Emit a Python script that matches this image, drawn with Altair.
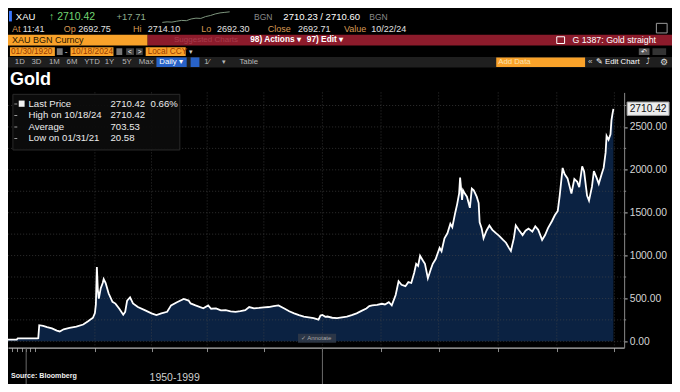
import altair as alt
import pandas as pd

# ---------------- data ----------------
idx = [0, 9, 10, 30, 31, 32, 36, 40, 45, 50, 53, 57, 63, 70, 77, 82, 87, 89, 90, 91,
       92, 93, 95, 97, 98, 100, 103, 107, 110, 114, 118, 120, 122, 125, 128, 133, 140, 147, 152, 157,
       163, 167, 173, 180, 185, 187, 192, 200, 205, 208, 213, 218, 223, 228, 233, 238, 243, 247, 252, 257,
       262, 267, 272, 277, 283, 288, 293, 298, 303, 308, 313, 318, 320, 322, 325, 327, 332, 337, 342, 347,
       352, 357, 362, 367, 370, 373, 378, 383, 386, 390, 393, 397, 400, 403, 407, 410, 413, 416, 418, 420,
       422, 425, 427, 430, 433, 435, 438, 442, 444, 447, 450, 453, 455, 458, 460, 462, 463, 465, 466, 468,
       470, 473, 475, 477, 480, 482, 483, 485, 487, 490, 493, 496, 500, 503, 507, 510, 513, 515, 518, 520,
       523, 527, 530, 533, 537, 540, 543, 547, 550, 553, 557, 560, 563, 565, 568, 570, 573, 577, 580, 583,
       585, 588, 590, 593, 595, 598, 600, 603, 605, 608, 610, 612, 613, 615, 617, 618, 619, 620]
price = [20, 20, 35, 35, 36, 188, 180, 165, 150, 125, 115, 140, 158, 172, 196, 233, 275, 330, 430, 866,
         600, 497, 620, 680, 725, 680, 560, 460, 440, 380, 310, 344, 475, 512, 442, 400, 363, 326, 307, 326,
         344, 419, 456, 494, 475, 442, 419, 385, 419, 380, 385, 360, 363, 350, 344, 352, 363, 400, 385, 389,
         395, 400, 410, 419, 382, 350, 326, 305, 289, 280, 271, 252, 300, 307, 285, 289, 275, 271, 280, 289,
         305, 326, 355, 382, 410, 419, 425, 438, 430, 456, 420, 540, 700, 660, 643, 690, 680, 800, 904, 880,
         998, 940, 904, 736, 840, 904, 960, 1090, 1050, 1202, 1260, 1370, 1330, 1500, 1600, 1724, 1910, 1650, 1761, 1720,
         1687, 1557, 1780, 1760, 1687, 1612, 1389, 1320, 1202, 1290, 1351, 1300, 1258, 1230, 1183, 1150, 1090, 1053, 1200, 1351,
         1300, 1239, 1290, 1314, 1280, 1340, 1300, 1183, 1240, 1320, 1400, 1470, 1520, 1700, 2022, 1950, 1900, 1724, 1892, 1860,
         1798, 2041, 1980, 1700, 1640, 1800, 1985, 1900, 1836, 1950, 2022, 2200, 2395, 2350, 2414, 2581, 2650, 2710.42]

y_labels = [0, 500, 1000, 1500, 2000, 2500]
y_grid = [0, 250, 500, 750, 1000, 1250, 1500, 1750, 2000, 2250, 2500, 2750]
y_minor = [250, 750, 1250, 1750, 2250, 2750]
x_ticks = [4, 9, 14, 18.6, 23, 28, 89, 147, 204, 262, 322, 382, 441, 502, 562, 621]
x_grid = [89, 147, 204, 262, 322, 382, 441, 502, 562, 621]
x_long = [18.6, 322]
spark_i = list(range(15))
spark_v = [0, 0.4, 0.2, 0.9, 1.5, 1.3, 2.6, 3.2, 3.0, 4.4, 5.2, 6.4, 7.2, 7.6, 8.0]

legend_names = ["Last Price", "High on 10/18/24", "Average", "Low on 01/31/21"]
legend_vals = ["2710.42", "2710.42", "703.53", "20.58"]

# ---------------- geometry ----------------
W0, H0 = 680, 392
TW, TH = 664, 376
SX, SY = TW / W0, TH / H0
TOP = 88 * SY
BOT = 354 * SY
RIGHT = 631 * SX
W = RIGHT
H = BOT - TOP
PX_PER = (347.5 - 124.0) / 2500.0
VTOP = (347.5 - 88) / PX_PER
VBOT = (347.5 - 354) / PX_PER


def X(px):
    return px * SX


def Y(py):
    return py * SY - TOP


FONT = "Liberation Sans, Arial, sans-serif"
one = pd.DataFrame({"k": [0]})


def txt(s, px, py, color="#e6e6e6", size=9.5, weight="normal", align="left", font=FONT):
    return alt.Chart(one).mark_text(
        text=s, align=align, baseline="middle", color=color, fontSize=size,
        fontWeight=weight, font=font
    ).encode(x=alt.value(X(px)), y=alt.value(Y(py)))


def box(x1, y1, x2, y2, fill, opacity=1.0, stroke="#000000", sw=0):
    return alt.Chart(one).mark_rect(
        fill=fill, opacity=opacity, stroke=stroke, strokeWidth=sw
    ).encode(x=alt.value(X(x1)), x2=alt.value(X(x2)), y=alt.value(Y(y1)), y2=alt.value(Y(y2)))


xs = alt.Scale(domain=[0, 631], nice=False, zero=False)
ys = alt.Scale(domain=[VBOT, VTOP], nice=False, zero=False)

AXX = alt.Axis(values=x_ticks, labels=False, tickSize=4, tickColor="#8a8a8a",
               domainColor="#b5b5b5", domainWidth=1.2, grid=False, title=None)
AXY = alt.Axis(orient="right", values=y_labels, format=".2f", tickSize=3, tickColor="#bbbbbb",
               domainColor="#8a8a8a", labelColor="#d6d6d6", labelFontSize=10.3, labelFont=FONT,
               labelPadding=2, grid=False, title=None)

df = pd.DataFrame({"i": idx, "p": price})
base = alt.Chart(df)

area = base.mark_area(color="#0b2242").encode(
    x=alt.X("i:Q", scale=xs, axis=AXX),
    y=alt.Y("p:Q", scale=ys, axis=AXY),
    y2=alt.value(H),
)

ygrid = alt.Chart(pd.DataFrame({"g": y_grid})).mark_rule(
    color="#4a4a4a", strokeDash=[1, 2], strokeWidth=0.8, opacity=0.8
).encode(y=alt.Y("g:Q", scale=ys, axis=AXY))

xgrid = alt.Chart(pd.DataFrame({"g": x_grid})).mark_rule(
    color="#4a4a4a", strokeDash=[1, 2], strokeWidth=0.8, opacity=0.8
).encode(x=alt.X("g:Q", scale=xs, axis=AXX))

line = base.mark_line(color="#ffffff", strokeWidth=1.8).encode(
    x=alt.X("i:Q", scale=xs, axis=AXX),
    y=alt.Y("p:Q", scale=ys, axis=AXY),
)

yminor = alt.Chart(pd.DataFrame({"g": y_minor})).mark_rule(
    color="#888888", strokeWidth=1
).encode(y=alt.Y("g:Q", scale=ys, axis=AXY), x=alt.value(W), x2=alt.value(W + 2))

xlong = alt.Chart(pd.DataFrame({"g": x_long})).mark_rule(
    color="#6a6a6a", strokeWidth=1
).encode(x=alt.X("g:Q", scale=xs, axis=AXX), y=alt.value(H), y2=alt.value(TH - TOP))

main = alt.layer(area, ygrid, xgrid, line, yminor, xlong)

spark = alt.Chart(pd.DataFrame({"s": spark_i, "v": spark_v})).mark_line(
    color="#7d957d", strokeWidth=1
).encode(
    x=alt.X("s:Q", axis=None, scale=alt.Scale(domain=[0, 14], range=[X(158), X(227)])),
    y=alt.Y("v:Q", axis=None, scale=alt.Scale(domain=[0, 8], range=[Y(15), Y(4)])),
)

deco = []
# row 1
deco += [box(1, 3, 4, 14, "#3a78ff"),
         txt("XAU", 8, 9, "#ffffff", 9.5),
         txt("\u2191 2710.42", 42, 9, "#72d672", 10.5),
         txt("+17.71", 111, 9, "#8fae8f", 9.5),
         txt("BGN", 252, 9, "#8a8a8a", 8.5),
         txt("2710.23 / 2710.60", 282, 9, "#ffffff", 9.5),
         txt("BGN", 370, 9, "#8a8a8a", 8.5)]
# row 2
row2 = [("At", 4, "11:41", 15), ("Op", 57, "2692.75", 72), ("Hi", 128, "2714.10", 143),
        ("Lo", 198, "2692.30", 214), ("Close", 266, "2692.71", 297), ("Value", 344, "10/22/24", 372)]
for lab, lx, val, vx in row2:
    deco += [txt(lab, lx, 22, "#d99a55", 9), txt(val, vx, 22, "#e2e2e2", 9)]
deco += [box(664, 16, 675, 26, "#000000", 1, "#9a9a9a", 1)]
# row 3
deco += [box(0, 28, 143, 39, "#f9a22a"),
         box(143, 28, 680, 39, "#8c1b2b"),
         txt("XAU BGN Curncy", 4, 33.5, "#2a1600", 9),
         txt("Suggested Charts", 170, 33.5, "#a83c4c", 8),
         txt("98) Actions \u25be", 248, 33.5, "#ffffff", 8.3, "bold"),
         txt("97) Edit \u25be", 306, 33.5, "#ffffff", 8.3, "bold"),
         box(562, 30, 570, 37, "#8c1b2b", 1, "#ffffff", 1),
         txt("G 1387: Gold straight", 578, 33.5, "#ffffff", 8.8)]
# row 4
deco += [box(2, 41, 48, 50, "#f9a22a"), txt("01/30/1920", 3, 45.5, "#9a3a00", 8.3),
         box(50, 42, 56, 49, "#777777"), txt("-", 58, 45.5, "#cccccc", 8.5),
         box(64, 41, 108, 50, "#f9a22a"), txt("10/18/2024", 65, 45.5, "#9a3a00", 8.3),
         box(111, 42, 117, 49, "#777777"), box(121, 42, 129, 49, "#444444"),
         txt("<", 123, 45.5, "#ffffff", 6.5), box(131, 42, 138, 49, "#444444"),
         txt(">", 133, 45.5, "#ffffff", 6.5),
         box(141, 41, 182, 50, "#f9a22a"), txt("Local CCY", 143, 45.5, "#9a3a00", 8.3),
         txt("\u25be", 185, 45.5, "#cccccc", 7),
         box(646, 42, 657, 49, "#555555"), box(660, 42, 674, 49, "#333333"),
         txt("\u21b6", 648, 45.5, "#ffffff", 6.5)]
# row 5
deco += [box(0, 51, 680, 62, "#1f1f1f")]
for lab, lx in [("1D", 7), ("3D", 24), ("1M", 42), ("6M", 60), ("YTD", 78), ("1Y", 99), ("5Y", 117), ("Max", 134)]:
    deco.append(txt(lab, lx, 56.5, "#b8b8b8", 7.8))
deco += [box(152, 51.5, 183, 61.5, "#2862c7"), txt("Daily \u25be", 155, 56.5, "#ffffff", 7.8),
         box(187, 51.5, 196, 61.5, "#2862c7"),
         txt("1\u2044", 201, 56.5, "#b8b8b8", 7.8), txt("\u25be", 219, 56.5, "#b8b8b8", 7),
         txt("Table", 237, 56.5, "#b8b8b8", 7.8),
         box(500, 51.5, 591, 61.5, "#f9a22a"), txt("Add Data", 502, 56.5, "#fbe2b0", 7.8),
         txt("\u00ab", 594, 56.5, "#cccccc", 8), txt("\u270e Edit Chart", 602, 56.5, "#ffffff", 7.8),
         txt("\u2699", 668, 56.5, "#dddddd", 8.5), txt("\u2934", 653, 56.5, "#dddddd", 7.5)]
# title
deco += [txt("Gold", 2, 75, "#ffffff", 18, "bold")]
# legend
deco += [box(5, 90, 176, 148, "#0c0c0c", 0.92, "#2e2e2e", 1),
         box(11, 96.5, 17, 103, "#f2f2f2")]
for nm, vv, ry in zip(legend_names, legend_vals, [100, 112, 124, 136]):
    deco.append(txt(nm, 21, ry, "#ececec", 9.6))
    deco.append(txt(vv, 105, ry, "#ececec", 9.6))
    deco.append(box(6.5, ry - 0.5, 9.5, ry + 0.5, "#9a9a9a"))
deco.append(txt("0.66%", 146, 100, "#ececec", 9.6))
# last price tag
deco += [box(634, 98, 677, 112, "#ececec", 1, "#9a9a9a", 1),
         txt("2710.42", 655.5, 105, "#111111", 10.2, align="center")]
# annotate button
deco += [box(297, 339.5, 336, 349, "#2f3848", 0.9),
         txt("\u2713 Annotate", 300, 344.3, "#a8a8a8", 6)]
# bottom texts
deco += [txt("Source: Bloomberg", 3, 384, "#f0f0f0", 7.1, "bold"),
         txt("1950-1999", 145, 386, "#cfcfcf", 10.5)]

chart = alt.layer(main, spark, *deco).resolve_scale(
    x="independent", y="independent"
).properties(
    width=W, height=H,
    padding={"left": 0, "top": TOP, "right": TW - RIGHT, "bottom": TH - BOT},
    autosize=alt.AutoSizeParams(type="none"),
    background="#000000",
).configure_view(stroke=None)

chart.save("out.html", embed_options={"renderer": "svg", "actions": False})
